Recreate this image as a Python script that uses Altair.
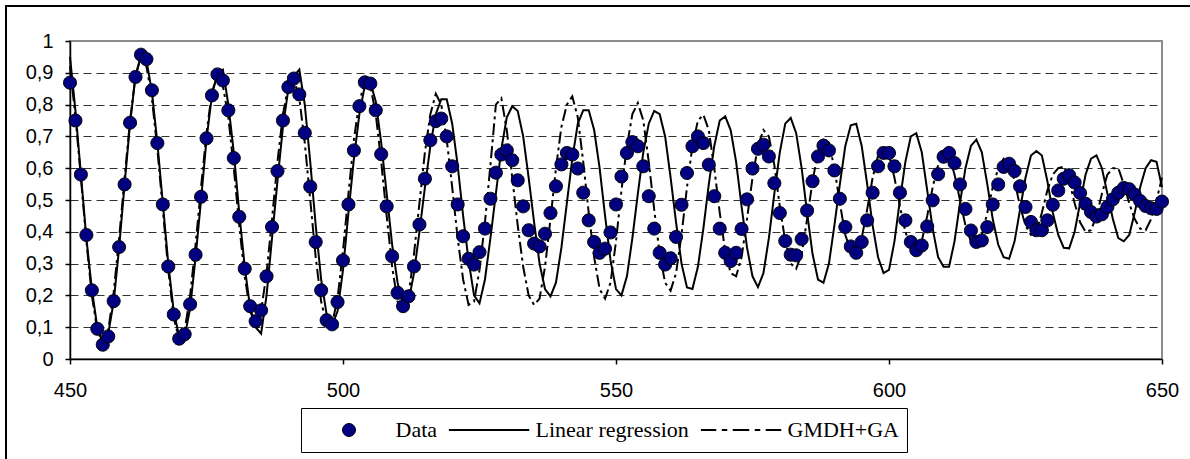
import altair as alt
import pandas as pd

# ---- values ----
x_values = list(range(450, 651))

data_values = [
    0.869, 0.750, 0.580, 0.390, 0.216, 0.095, 0.045, 0.071, 0.182, 0.352,
    0.549, 0.743, 0.887, 0.957, 0.943, 0.845, 0.679, 0.486, 0.291, 0.140,
    0.064, 0.078, 0.172, 0.328, 0.510, 0.694, 0.829, 0.895, 0.876, 0.782,
    0.632, 0.447, 0.284, 0.166, 0.119, 0.153, 0.260, 0.415, 0.591, 0.750,
    0.855, 0.882, 0.832, 0.711, 0.542, 0.368, 0.216, 0.122, 0.109, 0.179,
    0.310, 0.486, 0.656, 0.795, 0.870, 0.866, 0.782, 0.644, 0.480, 0.323,
    0.208, 0.166, 0.197, 0.291, 0.423, 0.567, 0.688, 0.748, 0.756, 0.700,
    0.606, 0.486, 0.386, 0.315, 0.297, 0.336, 0.410, 0.504, 0.586, 0.643,
    0.656, 0.625, 0.562, 0.480, 0.405, 0.363, 0.354, 0.394, 0.459, 0.543,
    0.612, 0.648, 0.643, 0.599, 0.523, 0.436, 0.368, 0.334, 0.347, 0.398,
    0.486, 0.574, 0.648, 0.682, 0.669, 0.606, 0.512, 0.410, 0.334, 0.297,
    0.317, 0.384, 0.485, 0.585, 0.669, 0.700, 0.679, 0.611, 0.512, 0.410,
    0.334, 0.308, 0.334, 0.409, 0.502, 0.599, 0.661, 0.674, 0.637, 0.553,
    0.459, 0.371, 0.328, 0.326, 0.377, 0.467, 0.559, 0.637, 0.671, 0.656,
    0.593, 0.504, 0.415, 0.354, 0.334, 0.368, 0.436, 0.523, 0.606, 0.648,
    0.648, 0.606, 0.523, 0.436, 0.368, 0.342, 0.357, 0.417, 0.499, 0.581,
    0.636, 0.648, 0.616, 0.549, 0.472, 0.404, 0.368, 0.373, 0.415, 0.486,
    0.549, 0.604, 0.614, 0.591, 0.543, 0.478, 0.431, 0.405, 0.405, 0.436,
    0.485, 0.530, 0.567, 0.578, 0.555, 0.522, 0.488, 0.462, 0.448, 0.455,
    0.478, 0.502, 0.523, 0.538, 0.534, 0.517, 0.497, 0.481, 0.474, 0.472,
    0.495,
]

linear_regression_values = [
    0.95, 0.78, 0.58, 0.38, 0.22, 0.10, 0.05, 0.08, 0.18, 0.35,
    0.55, 0.74, 0.89, 0.955, 0.94, 0.84, 0.68, 0.49, 0.30, 0.15,
    0.07, 0.07, 0.16, 0.32, 0.50, 0.69, 0.83, 0.90, 0.91, 0.80,
    0.65, 0.46, 0.29, 0.16, 0.10, 0.08, 0.20, 0.38, 0.56, 0.73,
    0.85, 0.89, 0.91, 0.80, 0.62, 0.42, 0.25, 0.14, 0.105, 0.15,
    0.28, 0.46, 0.63, 0.77, 0.86, 0.87, 0.81, 0.68, 0.52, 0.36,
    0.24, 0.17, 0.18, 0.27, 0.40, 0.54, 0.67, 0.77, 0.817, 0.817,
    0.74, 0.61, 0.45, 0.31, 0.20, 0.175, 0.25, 0.38, 0.52, 0.66,
    0.76, 0.795, 0.78, 0.70, 0.57, 0.43, 0.30, 0.22, 0.197, 0.24,
    0.35, 0.49, 0.63, 0.74, 0.782, 0.782, 0.72, 0.60, 0.45, 0.31,
    0.22, 0.20, 0.26, 0.38, 0.52, 0.65, 0.74, 0.78, 0.77, 0.70,
    0.57, 0.43, 0.30, 0.225, 0.22, 0.29, 0.41, 0.55, 0.67, 0.75,
    0.763, 0.72, 0.62, 0.48, 0.35, 0.26, 0.226, 0.27, 0.38, 0.52,
    0.65, 0.74, 0.758, 0.71, 0.60, 0.46, 0.33, 0.25, 0.24, 0.30,
    0.42, 0.55, 0.67, 0.735, 0.74, 0.67, 0.55, 0.42, 0.32, 0.27,
    0.28, 0.37, 0.50, 0.62, 0.70, 0.71, 0.65, 0.53, 0.41, 0.32,
    0.29, 0.29, 0.37, 0.49, 0.60, 0.67, 0.69, 0.65, 0.55, 0.44,
    0.36, 0.32, 0.315, 0.37, 0.47, 0.57, 0.64, 0.654, 0.64, 0.56,
    0.46, 0.39, 0.35, 0.348, 0.40, 0.49, 0.58, 0.63, 0.64, 0.60,
    0.52, 0.44, 0.38, 0.37, 0.39, 0.46, 0.54, 0.60, 0.625, 0.62,
    0.54,
]

gmdh_ga_values = [
    0.92, 0.76, 0.57, 0.37, 0.20, 0.09, 0.05, 0.09, 0.21, 0.38,
    0.57, 0.75, 0.89, 0.95, 0.92, 0.82, 0.66, 0.47, 0.28, 0.13,
    0.06, 0.09, 0.20, 0.36, 0.54, 0.71, 0.84, 0.89, 0.86, 0.76,
    0.60, 0.42, 0.26, 0.15, 0.11, 0.15, 0.27, 0.44, 0.62, 0.77,
    0.86, 0.88, 0.82, 0.68, 0.50, 0.32, 0.18, 0.11, 0.11, 0.19,
    0.34, 0.52, 0.69, 0.81, 0.87, 0.86, 0.77, 0.62, 0.45, 0.29,
    0.18, 0.15, 0.20, 0.33, 0.49, 0.65, 0.77, 0.834, 0.80, 0.69,
    0.54, 0.38, 0.25, 0.17, 0.18, 0.28, 0.43, 0.61, 0.80, 0.82,
    0.72, 0.57, 0.42, 0.29, 0.20, 0.17, 0.19, 0.29, 0.44, 0.60,
    0.73, 0.80, 0.826, 0.76, 0.62, 0.46, 0.32, 0.22, 0.19, 0.24,
    0.37, 0.53, 0.67, 0.77, 0.805, 0.75, 0.62, 0.47, 0.33, 0.24,
    0.215, 0.27, 0.39, 0.54, 0.67, 0.75, 0.768, 0.72, 0.60, 0.46,
    0.34, 0.27, 0.26, 0.32, 0.44, 0.57, 0.67, 0.72, 0.70, 0.61,
    0.48, 0.37, 0.30, 0.284, 0.33, 0.44, 0.56, 0.65, 0.69, 0.68,
    0.60, 0.49, 0.39, 0.34, 0.33, 0.38, 0.47, 0.57, 0.64, 0.66,
    0.64, 0.57, 0.48, 0.40, 0.35, 0.34, 0.37, 0.45, 0.54, 0.61,
    0.65, 0.64, 0.58, 0.50, 0.42, 0.37, 0.36, 0.39, 0.46, 0.54,
    0.60, 0.63, 0.62, 0.56, 0.48, 0.42, 0.39, 0.40, 0.46, 0.53,
    0.58, 0.60, 0.605, 0.56, 0.49, 0.43, 0.40, 0.405, 0.45, 0.52,
    0.58, 0.60, 0.60, 0.55, 0.49, 0.44, 0.41, 0.405, 0.44, 0.50,
    0.57,
]

series_names = ["Data", "Linear regression", "GMDH+GA"]
series_fill = ["#000080", "black", "black"]
x_ticks = [450, 500, 550, 600, 650]
y_ticks = [0, 0.1, 0.2, 0.3, 0.4, 0.5, 0.6, 0.7, 0.8, 0.9, 1]

# ---- tables ----
points_df = pd.DataFrame({"x": x_values, "y": data_values, "series": series_names[0]})
lr_df = pd.DataFrame({"x": x_values, "y": linear_regression_values, "series": series_names[1]})
gmdh_df = pd.DataFrame({"x": x_values, "y": gmdh_ga_values, "series": series_names[2]})

AXIS_FONT = "Liberation Sans"
LEGEND_FONT = "Liberation Serif"
DASHDOT = [12, 4, 3, 4]

# symbol shapes (unit box -1..1, scaled by the symbol size)
circle_path = "M0.1625,0A0.1625,0.1625,0,1,1,-0.1625,0A0.1625,0.1625,0,1,1,0.1625,0Z"
h = 0.0125
lr_path = f"M-1,-{h}H1V{h}H-1Z"
seg = [(-1, -0.625), (-0.475, -0.35), (-0.2, 0.2), (0.35, 0.475), (0.625, 1)]
gmdh_path = "".join(f"M{a},-{h}H{b}V{h}H{a}Z" for a, b in seg)
series_shapes = [circle_path, lr_path, gmdh_path]

x_enc = alt.X(
    "x:Q",
    scale=alt.Scale(domain=[450, 650], nice=False, zero=False),
    axis=alt.Axis(
        values=x_ticks, title=None, grid=False, tickSize=5, labelPadding=16,
        labelFont=AXIS_FONT, labelFontSize=20, labelColor="black",
        domainColor="black", domainWidth=1.5, tickColor="black", tickWidth=1.5,
        labelFlush=False,
    ),
)
y_enc = alt.Y(
    "y:Q",
    scale=alt.Scale(domain=[0, 1], nice=False),
    axis=alt.Axis(
        values=y_ticks, title=None, tickSize=5, labelPadding=12,
        labelFont=AXIS_FONT, labelFontSize=20, labelColor="black",
        labelExpr="replace(format(datum.value, '.1~f'), '.', ',')",
        domainColor="black", domainWidth=1.5, tickColor="black", tickWidth=1.5,
        grid=True, gridColor="#333333", gridDash=[8, 5], gridWidth=1.2,
        gridOpacity={"condition": {"test": "datum.value > 0.95", "value": 0}, "value": 1},
        labelFlush=False,
    ),
)

legend = alt.Legend(
    orient="none",
    legendX=231,
    legendY=367,
    direction="horizontal",
    strokeColor="black",
    fillColor="white",
    padding=7.5,
    clipHeight=29,
    symbolSize=6400,
    symbolStrokeWidth=1,
    symbolStrokeColor="black",
    symbolOpacity=1,
    symbolOffset=0,
    labelOffset=6,
    columnPadding=11,
    labelFont=LEGEND_FONT,
    labelFontSize=22,
    labelColor="black",
    labelLimit=400,
)

lr_line = alt.Chart(lr_df).mark_line(color="black", strokeWidth=2).encode(x=x_enc, y=y_enc)
gmdh_line = alt.Chart(gmdh_df).mark_line(color="black", strokeWidth=2, strokeDash=DASHDOT).encode(
    x=x_enc, y=y_enc
)

points = alt.Chart(points_df).mark_point(
    filled=True, stroke="black", strokeWidth=1, size=6400, opacity=1
).encode(
    x=x_enc,
    y=y_enc,
    fill=alt.Fill(
        "series:N", title=None,
        scale=alt.Scale(domain=series_names, range=series_fill),
        legend=legend,
    ),
    shape=alt.Shape(
        "series:N", title=None,
        scale=alt.Scale(domain=series_names, range=series_shapes),
    ),
)

frame = alt.Chart(pd.DataFrame({"k": [0]})).mark_rect(
    filled=False, stroke="black", strokeWidth=2, fill="transparent"
).encode(
    x=alt.value(-64), y=alt.value(-35), x2=alt.value(1300), y2=alt.value(600)
)

chart = (
    alt.layer(lr_line, gmdh_line, points, frame)
    .properties(
        width=1092,
        height=318,
        autosize=alt.AutoSizeParams(type="none"),
        padding={"left": 70, "top": 41, "right": 28, "bottom": 100},
        background="white",
    )
    .configure_view(stroke="#8c8c8c", strokeWidth=2)
)

chart.save("out.html", embed_options={"renderer": "svg", "actions": False})
